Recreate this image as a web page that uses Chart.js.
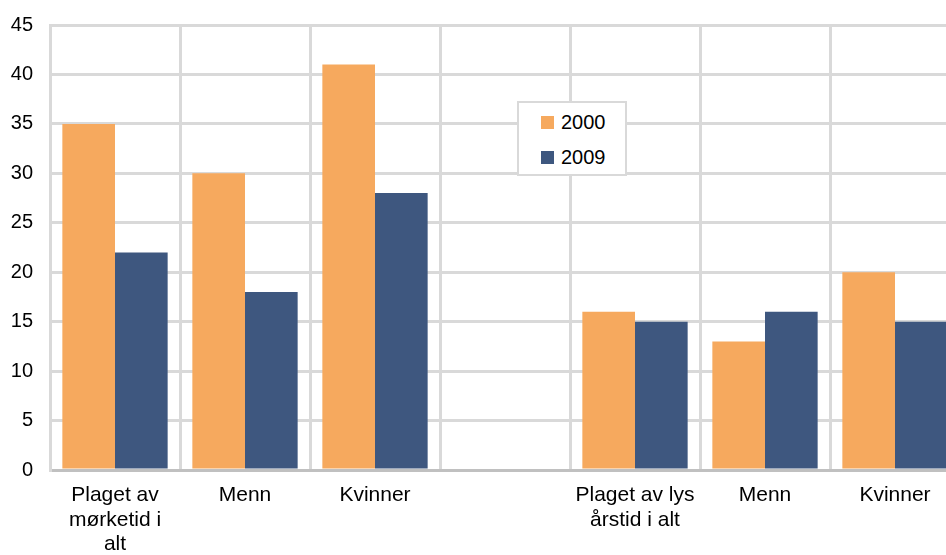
<!DOCTYPE html>
<html>
<head>
<meta charset="utf-8">
<script src="https://cdn.jsdelivr.net/npm/chart.js@4"></script>
<style>
  html, body { margin: 0; padding: 0; background: #fff; overflow: hidden; }
  #wrap { position: relative; width: 946px; height: 555px; overflow: hidden; }
  #chart { position: absolute; left: 0; top: -4px; }
  #legend {
    position: absolute; left: 517px; top: 101px; width: 106px; height: 71px;
    border: 2px solid #d9d9d9; background: #fff;
    font-family: "Liberation Sans", Arial, sans-serif; font-size: 20px; color: #000;
  }
  #legend .it { position: absolute; left: 22px; height: 22px; line-height: 22px; }
  #legend .sw { display: inline-block; width: 13px; height: 13px; margin-right: 7px; vertical-align: 0px; }
</style>
</head>
<body>
<div id="wrap">
  <canvas id="chart" width="960" height="559"></canvas>
  <div id="legend"></div>
</div>
<script>
const categories = [
  ['Plaget av', 'mørketid i', 'alt'],
  'Menn',
  'Kvinner',
  '',
  ['Plaget av lys', 'årstid i alt'],
  'Menn',
  'Kvinner'
];
const seriesNames = ['2000', '2009'];
const values2000 = [35, 30, 41, null, 16, 13, 20];
const values2009 = [22, 18, 28, null, 15, 16, 15];
const yTicks = [0, 5, 10, 15, 20, 25, 30, 35, 40, 45];
const colors = ['#f6a95e', '#3e577f'];

const yFont = { family: '"Liberation Sans", Arial, sans-serif', size: 20 };
const xFont = { family: '"Liberation Sans", Arial, sans-serif', size: 21, lineHeight: 1.17 };

new Chart(document.getElementById('chart'), {
  type: 'bar',
  data: {
    labels: categories,
    datasets: [
      { label: seriesNames[0], data: values2000, backgroundColor: colors[0] },
      { label: seriesNames[1], data: values2009, backgroundColor: colors[1] }
    ]
  },
  options: {
    responsive: false,
    animation: false,
    layout: { padding: { top: 21, left: 0, right: 0, bottom: 0 } },
    datasets: { bar: { categoryPercentage: 0.81, barPercentage: 1 } },
    plugins: { legend: { display: false }, tooltip: { enabled: false } },
    scales: {
      x: {
        grid: { color: '#d9d9d9', lineWidth: 3, drawTicks: false, offset: true },
        border: { color: '#c0c0c0', width: 3 },
        ticks: { color: '#000', font: xFont, padding: 13, maxRotation: 0, autoSkip: false },
        afterFit: s => { s.height = 85; }
      },
      y: {
        min: 0, max: 45,
        afterBuildTicks: s => { s.ticks = yTicks.map(v => ({ value: v })); },
        grid: { color: '#d9d9d9', lineWidth: 3, drawTicks: false },
        border: { color: '#d9d9d9', width: 3 },
        ticks: { color: '#000', font: yFont, padding: 17 },
        afterFit: s => { s.width = 50; }
      }
    }
  }
});

// legend box drawn over the plot, like the original
const legend = document.getElementById('legend');
seriesNames.forEach((name, i) => {
  const it = document.createElement('div');
  it.className = 'it';
  it.style.top = (8 + i * 35) + 'px';
  it.innerHTML = '<span class="sw" style="background:' + colors[i] + '"></span>' + name;
  legend.appendChild(it);
});
</script>
</body>
</html>
